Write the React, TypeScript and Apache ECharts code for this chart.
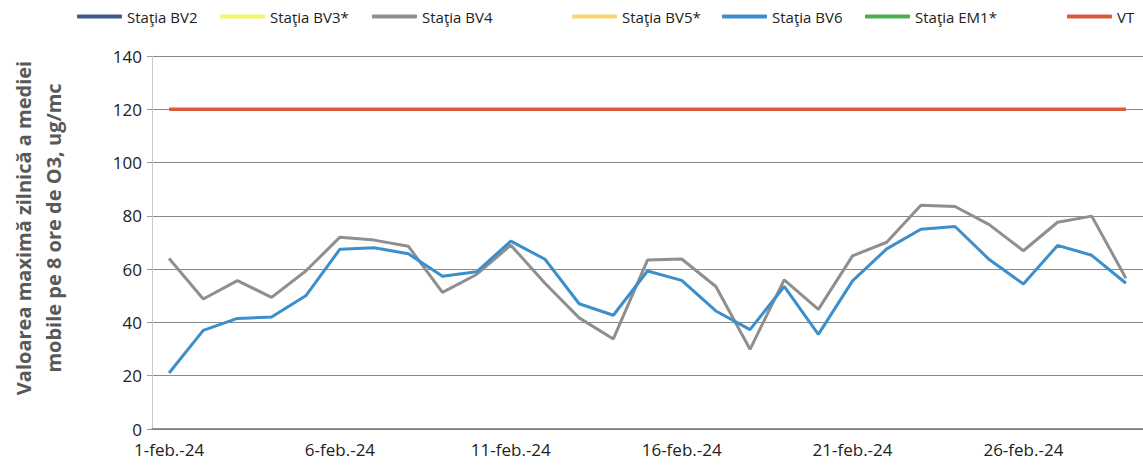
import React, { useEffect, useRef } from "react";
import * as echarts from "echarts";

const days: string[] = [
  "1-feb.-24", "2-feb.-24", "3-feb.-24", "4-feb.-24", "5-feb.-24", "6-feb.-24", "7-feb.-24",
  "8-feb.-24", "9-feb.-24", "10-feb.-24", "11-feb.-24", "12-feb.-24", "13-feb.-24", "14-feb.-24",
  "15-feb.-24", "16-feb.-24", "17-feb.-24", "18-feb.-24", "19-feb.-24", "20-feb.-24", "21-feb.-24",
  "22-feb.-24", "23-feb.-24", "24-feb.-24", "25-feb.-24", "26-feb.-24", "27-feb.-24", "28-feb.-24",
  "29-feb.-24",
];

const bv2: (number | null)[] = [];
const bv3: (number | null)[] = [];
const bv4: number[] = [64, 48.8, 55.7, 49.4, 59.3, 72, 70.9, 68.6, 51.3, 58, 69, 54.7, 41.7, 33.8, 63.4, 63.8, 53.5, 29.9, 56, 44.9, 65, 70.1, 84, 83.5, 76.7, 66.9, 77.6, 79.9, 56.6];
const bv5: (number | null)[] = [];
const bv6: number[] = [21, 37, 41.5, 42, 50, 67.5, 68, 65.8, 57.3, 59, 70.5, 63.7, 47, 42.7, 59.3, 55.8, 44.3, 37.3, 53.5, 35.5, 55.6, 67.6, 75, 76, 63.6, 54.4, 68.9, 65.2, 54.7];
const em1: (number | null)[] = [];
const vt: number[] = days.map(() => 120);

const seriesNames = ["Staţia BV2", "Staţia BV3*", "Staţia BV4", "Staţia BV5*", "Staţia BV6", "Staţia EM1*", "VT"];
const seriesColors = ["#3e5b8c", "#f3f56a", "#8f8f8f", "#f5d76e", "#3d8fcb", "#4caf50", "#dc5a3c"];
const seriesData = [bv2, bv3, bv4, bv5, bv6, em1, vt];
const legendLeft = [72, 215, 367, 567, 717, 860, 1062];

export default function App() {
  const ref = useRef<HTMLDivElement>(null);
  useEffect(() => {
    if (!ref.current) return;
    const chart = echarts.init(ref.current, undefined, { renderer: "svg" });
    const font = "'Open Sans', sans-serif";
    chart.setOption({
      animation: false,
      backgroundColor: "#ffffff",
      legend: seriesNames.map((n, i) => ({
        data: [n],
        left: legendLeft[i],
        top: 4,
        icon: "roundRect",
        itemWidth: 45,
        itemHeight: 4,
        textStyle: { fontFamily: font, fontSize: 15, color: "#222" },
        selectedMode: false,
      })),
      grid: { left: 152, top: 56, width: 998, height: 373 },
      xAxis: {
        type: "category",
        data: days,
        boundaryGap: true,
        axisLine: { lineStyle: { color: "#777", width: 1.5 } },
        axisTick: { interval: 4, length: 5, lineStyle: { color: "#777" } },
        axisLabel: { interval: 4, fontFamily: font, fontSize: 17, color: "#222", margin: 12 },
        splitLine: { show: false },
      },
      yAxis: {
        type: "value",
        min: 0,
        max: 140,
        interval: 20,
        axisLine: { show: true, lineStyle: { color: "#cfc4bf" } },
        axisTick: { show: true, length: 5, lineStyle: { color: "#999" } },
        axisLabel: { fontFamily: font, fontSize: 17, color: "#222", margin: 10 },
        splitLine: { lineStyle: { color: "#8a8a8a", width: 1 } },
      },
      graphic: [
        {
          type: "text",
          x: 38,
          y: 228,
          rotation: Math.PI / 2,
          style: {
            text: "Valoarea maximă zilnică a mediei\nmobile pe 8 ore de O3, ug/mc",
            fontFamily: font,
            fontSize: 20,
            fontWeight: "bold",
            fill: "#595959",
            align: "center",
            verticalAlign: "middle",
            lineHeight: 30,
          },
        },
      ],
      series: seriesNames.map((n, i) => ({
        name: n,
        type: "line",
        data: seriesData[i],
        showSymbol: false,
        symbol: "none",
        color: seriesColors[i],
        lineStyle: { color: seriesColors[i], width: n === "VT" ? 3.5 : 3 },
        z: n === "Staţia BV6" ? 4 : 3,
      })),
    });
    return () => chart.dispose();
  }, []);
  return <div ref={ref} style={{ position: "fixed", left: 0, top: 0, width: 1143, height: 472 }} />;
}
